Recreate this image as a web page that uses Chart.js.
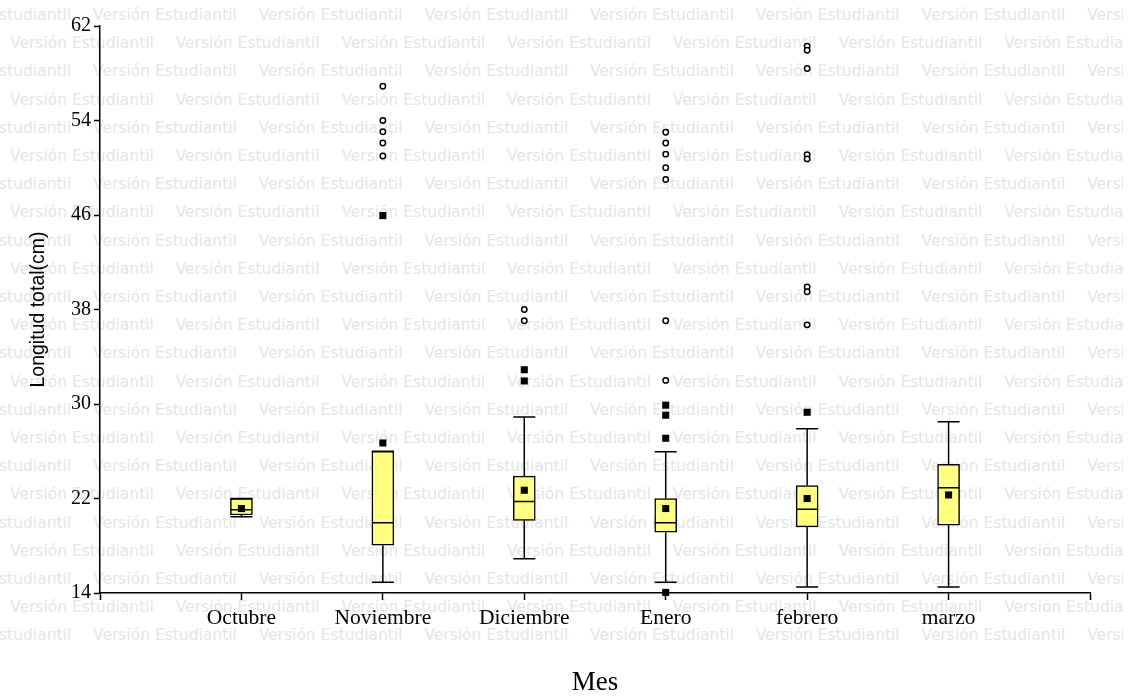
<!DOCTYPE html>
<html lang="es">
<head>
<meta charset="utf-8">
<title>Longitud total por mes</title>
<script src="https://cdn.jsdelivr.net/npm/chart.js@4.4.1/dist/chart.umd.min.js"></script>
<style>
  html, body { margin: 0; padding: 0; background: #fff; }
  #wrap { position: relative; width: 1130px; height: 696px; overflow: hidden; }
  #watermark { position: absolute; left: 0; top: 0; width: 1123px; height: 696px; overflow: hidden; }
  #watermark span {
    position: absolute; white-space: nowrap;
    font-family: 'DejaVu Sans', sans-serif; font-size: 15.5px; line-height: 18px;
    color: #e5e5e5;
  }
  #chart { position: absolute; left: 0; top: 0; }
</style>
</head>
<body>
<div id="wrap">
  <div id="watermark"></div>
  <canvas id="chart" width="1130" height="696"></canvas>
</div>
<script>
// --- DATA ---
const months = ['Octubre', 'Noviembre', 'Diciembre', 'Enero', 'febrero', 'marzo'];
const whiskerLow  = [20.45, 14.9, 16.9, 14.9, 14.5, 14.5];
const q1          = [20.6, 18.05, 20.15, 19.15, 19.6, 19.75];
const median      = [21.05, 19.95, 21.75, 19.95, 21.1, 22.9];
const q3          = [22.0, 26.0, 23.9, 22.0, 23.1, 24.9];
const whiskerHigh = [22.0, 26.0, 28.9, 25.95, 27.9, 28.5];
const means       = [21.15, 26.7, 22.7, 21.15, 22.0, 22.3];
// filled squares beyond the whiskers
const nearOutliers = [
    [],
    [45.95],
    [32.9, 31.95],
    [29.9, 29.05, 27.1, 14.05],
    [29.3],
    []
];
// open circles
const farOutliers = [
    [],
    [56.9, 54.0, 53.05, 52.1, 51.0],
    [38.0, 37.05],
    [53.0, 52.1, 51.15, 50.0, 49.0, 37.05, 32.0],
    [60.3, 59.95, 58.4, 51.1, 50.75, 39.9, 39.5, 36.7],
    []
];
const yTicks = [14, 22, 30, 38, 46, 54, 62];

// x axis runs one empty slot past each end
const xLabels = [''].concat(months, ['']);

function toPoints(lists) {
    const pts = [];
    lists.forEach((vals, i) => vals.forEach(v => pts.push({ x: months[i], y: v })));
    return pts;
}

// --- WATERMARK BACKGROUND ---
(function buildWatermark() {
    const box = document.getElementById('watermark');
    for (let r = 0; r < 23; r++) {
        const cy = 15 + r * 28.2;
        const start = r % 2 === 0 ? -72.7 : 10;
        for (let k = 0; start + k * 165.7 < 1123; k++) {
            const s = document.createElement('span');
            s.textContent = 'Versión Estudiantil';
            s.style.left = (start + k * 165.7) + 'px';
            s.style.top = (cy - 9) + 'px';
            box.appendChild(s);
        }
    }
})();

// --- whiskers, caps and median line ---
const boxWhiskers = {
    id: 'boxWhiskers',
    afterDatasetDraw(chart, args) {
        if (args.index !== 0) return;
        const { ctx, scales: { x, y } } = chart;
        const half = 11;
        ctx.save();
        ctx.strokeStyle = '#000';
        ctx.lineWidth = 1.5;
        months.forEach((m, i) => {
            const cx = x.getPixelForValue(i + 1);
            ctx.beginPath();
            // whiskers
            ctx.moveTo(cx, y.getPixelForValue(q3[i]));
            ctx.lineTo(cx, y.getPixelForValue(whiskerHigh[i]));
            ctx.moveTo(cx, y.getPixelForValue(q1[i]));
            ctx.lineTo(cx, y.getPixelForValue(whiskerLow[i]));
            // caps
            ctx.moveTo(cx - half, y.getPixelForValue(whiskerHigh[i]));
            ctx.lineTo(cx + half, y.getPixelForValue(whiskerHigh[i]));
            ctx.moveTo(cx - half, y.getPixelForValue(whiskerLow[i]));
            ctx.lineTo(cx + half, y.getPixelForValue(whiskerLow[i]));
            // median
            ctx.moveTo(cx - half, y.getPixelForValue(median[i]));
            ctx.lineTo(cx + half, y.getPixelForValue(median[i]));
            ctx.stroke();
        });
        ctx.restore();
    }
};

const serifFamily = "'Liberation Serif', 'Times New Roman', serif";

new Chart(document.getElementById('chart').getContext('2d'), {
    type: 'bar',
    data: {
        labels: xLabels,
        datasets: [
            {
                label: 'caja',
                data: months.map((m, i) => ({ x: m, y: [q1[i], q3[i]] })),
                backgroundColor: '#ffff80',
                borderColor: '#000',
                borderWidth: 1.5,
                borderSkipped: false,
                barThickness: 22,
                order: 3
            },
            {
                type: 'line',
                label: 'media',
                data: means.map((v, i) => ({ x: months[i], y: v })),
                showLine: false,
                pointStyle: 'rect',
                pointRadius: 5,
                pointBackgroundColor: '#000',
                pointBorderWidth: 0,
                clip: false,
                order: 1
            },
            {
                type: 'line',
                label: 'atipicos',
                data: toPoints(nearOutliers),
                showLine: false,
                pointStyle: 'rect',
                pointRadius: 5,
                pointBackgroundColor: '#000',
                pointBorderWidth: 0,
                clip: false,
                order: 1
            },
            {
                type: 'line',
                label: 'extremos',
                data: toPoints(farOutliers),
                showLine: false,
                pointStyle: 'circle',
                pointRadius: 2.7,
                pointBackgroundColor: '#fff',
                pointBorderColor: '#000',
                pointBorderWidth: 1.5,
                clip: false,
                order: 1
            }
        ]
    },
    options: {
        responsive: false,
        animation: false,
        events: [],
        layout: { padding: { top: 26, right: 40, left: 0, bottom: 0 } },
        plugins: {
            legend: { display: false },
            tooltip: { enabled: false }
        },
        scales: {
            x: {
                type: 'category',
                offset: false,
                afterFit: s => { s.height = 103; },
                grid: {
                    offset: false,
                    drawOnChartArea: false,
                    drawTicks: true,
                    tickLength: 7,
                    tickWidth: 1.5,
                    tickColor: '#000'
                },
                border: { display: true, color: '#000', width: 1.5 },
                ticks: { color: '#000', font: { family: serifFamily, size: 21.5 }, padding: 5, maxRotation: 0, autoSkip: false },
                title: {
                    display: true,
                    text: 'Mes',
                    color: '#000',
                    font: { family: serifFamily, size: 27, lineHeight: 1.0 },
                    padding: { top: 0, bottom: 0 }
                }
            },
            y: {
                min: 14,
                max: 62,
                afterFit: s => { s.width = 100; },
                afterBuildTicks: s => { s.ticks = yTicks.map(v => ({ value: v })); },
                grid: {
                    drawOnChartArea: false,
                    drawTicks: true,
                    tickLength: 6,
                    tickWidth: 1.5,
                    tickColor: '#000'
                },
                border: { display: true, color: '#000', width: 1.5 },
                ticks: { color: '#000', font: { family: serifFamily, size: 20 }, padding: 3 },
                title: {
                    display: true,
                    text: 'Longitud total(cm)',
                    color: '#000',
                    font: { family: "'Liberation Sans', Arial, sans-serif", size: 19.5, lineHeight: 1.2 },
                    padding: { top: 27, bottom: 0 }
                }
            }
        }
    },
    plugins: [boxWhiskers]
});
</script>
</body>
</html>
